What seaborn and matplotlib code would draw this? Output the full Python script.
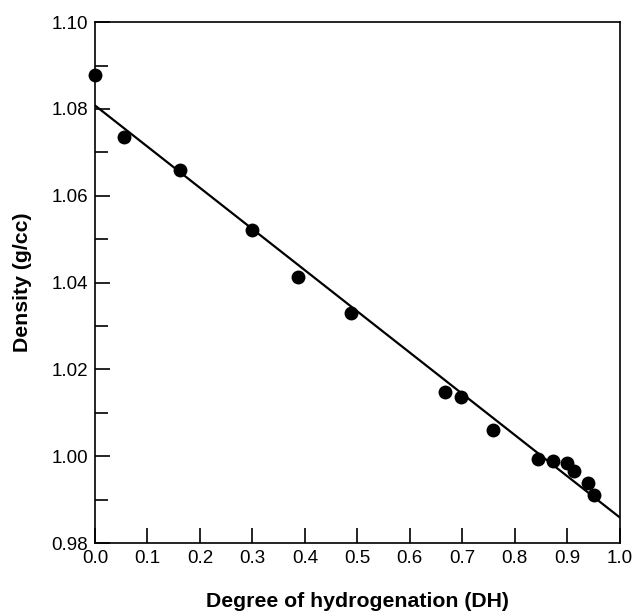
import numpy as np
import pandas as pd
import matplotlib
matplotlib.use("Agg")
import matplotlib.pyplot as plt
import seaborn as sns
from matplotlib.ticker import MultipleLocator, FormatStrFormatter

# Data
dh = [0.0, 0.055, 0.162, 0.299, 0.386, 0.488, 0.667, 0.698, 0.758, 0.844, 0.873, 0.900, 0.913, 0.940, 0.950]
density = [1.0878, 1.0735, 1.0659, 1.0521, 1.0413, 1.0330, 1.0147, 1.0136, 1.0060, 0.9993, 0.9989, 0.9985, 0.9966, 0.9938, 0.9911]
fit_x = [0.0, 1.0]
fit_y = [1.0808, 0.9859]

sns.set_theme(style="ticks")
plt.rcParams['font.family'] = ['Liberation Sans', 'DejaVu Sans']
plt.rcParams['text.color'] = 'black'
plt.rcParams['axes.labelcolor'] = 'black'

fig = plt.figure(figsize=(6.35, 6.14), dpi=100)
ax = fig.add_axes([0.1496, 0.1156, 0.976 - 0.1496, 0.964 - 0.1156])

pts = pd.DataFrame({"DH": dh, "Density": density})
line = pd.DataFrame({"DH": fit_x, "Density": fit_y})

sns.lineplot(data=line, x="DH", y="Density", ax=ax, color="black", linewidth=1.6)
sns.scatterplot(data=pts, x="DH", y="Density", ax=ax, color="black", s=100,
                edgecolor="black", linewidth=0, zorder=3, clip_on=False)

ax.set_xlim(0, 1.0)
ax.set_ylim(0.98, 1.10)
ax.xaxis.set_major_locator(MultipleLocator(0.1))
ax.yaxis.set_major_locator(MultipleLocator(0.02))
ax.yaxis.set_minor_locator(MultipleLocator(0.01))
ax.xaxis.set_major_formatter(FormatStrFormatter('%.1f'))
ax.yaxis.set_major_formatter(FormatStrFormatter('%.2f'))

ax.tick_params(axis='both', which='major', direction='in', length=11, width=1.2,
               labelsize=13.5, colors='black', pad=5)
ax.tick_params(axis='y', which='minor', direction='in', length=9, width=1.2, colors='black')
ax.tick_params(top=False, right=False, which='both')

for sp in ax.spines.values():
    sp.set_visible(True)
    sp.set_linewidth(1.2)
    sp.set_color('black')

ax.set_xlabel("Degree of hydrogenation (DH)", fontsize=15.3, fontweight='bold',
              labelpad=18, color='black')
ax.set_ylabel("Density (g/cc)", fontsize=15.3, fontweight='bold',
              labelpad=14, color='black')

fig.savefig("out.png", dpi=100)
